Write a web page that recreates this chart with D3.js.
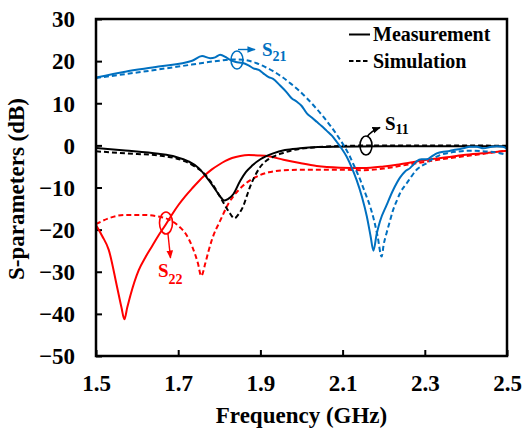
<!DOCTYPE html>
<html>
<head>
<meta charset="utf-8">
<script src="https://cdn.jsdelivr.net/npm/d3@7/dist/d3.min.js"></script>
<style>
  html, body { margin: 0; padding: 0; background: #fff; }
  svg { display: block; }
</style>
</head>
<body>
<svg id="chart" width="526" height="430"></svg>
<script>
// S-parameter traces: [frequency (GHz), magnitude (dB)]
const s21Meas = [[1.5,16.1],[1.571,17.5],[1.652,18.7],[1.734,20.1],[1.758,21.2],[1.778,20.7],[1.79,20.9],[1.802,21.5],[1.815,21.0],[1.823,20.5],[1.84,19.8],[1.855,19.6],[1.871,19.0],[1.883,18.3],[1.896,17.9],[1.907,17.1],[1.92,16.2],[1.931,15.8],[1.948,14.2],[1.964,12.6],[1.976,11.2],[1.988,10.4],[2.0,9.4],[2.013,7.6],[2.025,6.6],[2.037,5.6],[2.049,4.6],[2.061,3.5],[2.074,2.3],[2.086,0.8],[2.098,-0.8],[2.11,-2.7],[2.122,-5.2],[2.134,-8.2],[2.147,-12.2],[2.159,-16.9],[2.168,-21.5],[2.175,-25],[2.183,-21],[2.191,-18],[2.207,-14.2],[2.223,-10.6],[2.24,-7.6],[2.252,-6.2],[2.264,-5.4],[2.272,-4.6],[2.28,-3.8],[2.292,-3.3],[2.305,-3.3],[2.317,-2.6],[2.329,-1.9],[2.345,-1.5],[2.357,-1.4],[2.37,-1.1],[2.382,-0.9],[2.394,-0.7],[2.41,-0.3],[2.426,-0.3],[2.443,-0.7],[2.459,-0.4],[2.475,-0.2],[2.49,-0.3],[2.5,-0.8]];
const s21Sim = [[1.5,16.0],[1.6,17.3],[1.7,18.7],[1.8,20.1],[1.83,20.4],[1.858,20.3],[1.891,19.5],[1.91,18.7],[1.931,17.6],[1.952,16.3],[1.972,14.8],[1.993,13.1],[2.013,11.2],[2.033,9.1],[2.053,6.8],[2.07,4.7],[2.086,2.5],[2.102,0.1],[2.118,-2.7],[2.13,-5.3],[2.143,-8.2],[2.155,-11.3],[2.167,-14.5],[2.177,-18],[2.185,-21.5],[2.195,-26.4],[2.2,-23.5],[2.207,-20.8],[2.215,-18],[2.223,-15.3],[2.232,-13.1],[2.24,-11.3],[2.256,-9],[2.268,-7.3],[2.28,-5.8],[2.292,-4.9],[2.305,-4.2],[2.321,-3.1],[2.337,-2.3],[2.357,-1.8],[2.378,-1.5],[2.4,-1.3],[2.42,-1.3],[2.44,-1.4],[2.46,-1.5],[2.48,-1.8],[2.5,-2.3]];
const s11Meas = [[1.5,-0.6],[1.571,-1.2],[1.652,-2.0],[1.693,-2.7],[1.725,-3.8],[1.75,-5.4],[1.774,-8.2],[1.794,-11],[1.805,-12.5],[1.812,-13.1],[1.82,-12.8],[1.834,-11.6],[1.851,-8.4],[1.865,-6.3],[1.88,-4.8],[1.9,-3.3],[1.931,-1.9],[1.96,-1.1],[1.996,-0.7],[2.04,-0.4],[2.077,-0.3],[2.2,-0.2],[2.35,-0.2],[2.5,-0.2]];
const s11Sim = [[1.5,-1.4],[1.571,-1.9],[1.652,-2.4],[1.717,-3.8],[1.74,-5],[1.758,-6.2],[1.782,-9],[1.806,-12.9],[1.823,-15.7],[1.837,-17.3],[1.847,-16.3],[1.858,-14.5],[1.867,-12],[1.875,-9.8],[1.887,-7.2],[1.899,-5.2],[1.915,-3.6],[1.931,-2.7],[1.955,-1.8],[1.98,-1.1],[2.03,-0.5],[2.077,-0.2],[2.2,0],[2.35,0],[2.5,-0.1]];
const s22Meas = [[1.5,-18.9],[1.515,-21.5],[1.531,-24.8],[1.551,-33.5],[1.562,-38.5],[1.569,-41.3],[1.576,-38.5],[1.584,-35.5],[1.604,-29.6],[1.62,-26.6],[1.636,-24],[1.652,-21.4],[1.669,-18.9],[1.685,-16.4],[1.701,-14.1],[1.717,-12.1],[1.734,-10.2],[1.75,-8.5],[1.766,-7],[1.782,-5.7],[1.799,-4.6],[1.815,-3.7],[1.831,-3.0],[1.851,-2.5],[1.871,-2.3],[1.895,-2.4],[1.92,-2.6],[1.956,-3.4],[1.996,-4.2],[2.037,-4.9],[2.094,-5.3],[2.15,-5.4],[2.2,-5.0],[2.232,-4.6],[2.27,-4.0],[2.313,-3.3],[2.354,-2.8],[2.394,-2.3],[2.45,-1.8],[2.5,-1.3]];
const s22Sim = [[1.5,-18.7],[1.531,-17.3],[1.571,-16.5],[1.612,-16.5],[1.652,-16.9],[1.675,-17.5],[1.693,-18.5],[1.705,-19.5],[1.717,-20.8],[1.734,-24],[1.748,-28],[1.756,-31],[1.766,-28],[1.774,-25],[1.782,-22.4],[1.803,-17.7],[1.823,-13.7],[1.847,-10.6],[1.862,-9.2],[1.88,-8.0],[1.9,-7.0],[1.92,-6.4],[1.956,-5.9],[2.0,-5.8],[2.037,-5.8],[2.11,-5.8],[2.15,-5.9],[2.2,-5.5],[2.232,-5.0],[2.27,-4.4],[2.313,-3.7],[2.354,-3.1],[2.394,-2.6],[2.45,-1.9],[2.5,-1.2]];

const xTicks = [1.5, 1.7, 1.9, 2.1, 2.3, 2.5];
const yTicks = [-50, -40, -30, -20, -10, 0, 10, 20, 30];
const legendLabels = ["Measurement", "Simulation"];

const BLUE = "#0070C0", RED = "#FF0000", BLACK = "#000000";
const FONT = "'Liberation Serif', Tinos, 'Times New Roman', 'DejaVu Serif', serif";

const svg = d3.select("#chart")
  .attr("font-family", FONT).attr("font-weight", "bold");
const m = { left: 96, right: 507, top: 19, bottom: 356 };

const x = d3.scaleLinear().domain([1.5, 2.5]).range([m.left, m.right]);
const y = d3.scaleLinear().domain([-50, 30]).range([m.bottom, m.top]);

// serif bold text helper
function styleText(sel, size) {
  return sel.attr("font-family", FONT).attr("font-weight", "bold").attr("font-size", size);
}

// arrowhead markers
const defs = svg.append("defs");
[["arrBlue", BLUE], ["arrRed", RED], ["arrBlack", BLACK]].forEach(([id, c]) => {
  defs.append("marker").attr("id", id)
    .attr("viewBox", "0 0 10 10").attr("refX", 9).attr("refY", 5)
    .attr("markerWidth", 6).attr("markerHeight", 6).attr("orient", "auto")
    .append("path").attr("d", "M0,1 L10,5 L0,9 Z").attr("fill", c);
});
defs.append("clipPath").attr("id", "plotClip")
  .append("rect").attr("x", m.left).attr("y", m.top)
  .attr("width", m.right - m.left).attr("height", m.bottom - m.top);

// axes with inward ticks
const xAxis = svg.append("g").attr("transform", `translate(0,${m.bottom})`)
  .call(d3.axisBottom(x).tickValues(xTicks).tickFormat(d3.format(".1f"))
    .tickSizeInner(-6).tickSizeOuter(0));
xAxis.attr("font-family", FONT).attr("font-size", 23);
xAxis.select(".domain").remove();
xAxis.selectAll("line").attr("stroke", BLACK).attr("stroke-width", 2);
styleText(xAxis.selectAll("text"), 23).attr("y", 35).attr("dy", null).attr("fill", BLACK);

const yAxis = svg.append("g").attr("transform", `translate(${m.left},0)`)
  .call(d3.axisLeft(y).tickValues(yTicks).tickSizeInner(-6).tickSizeOuter(0));
yAxis.attr("font-family", FONT).attr("font-size", 23);
yAxis.select(".domain").remove();
yAxis.selectAll("line").attr("stroke", BLACK).attr("stroke-width", 2);
styleText(yAxis.selectAll("text"), 23).attr("x", -21).attr("dy", "0.34em").attr("fill", BLACK);

// curves
const line = d3.line().x(d => x(d[0])).y(d => y(d[1])).curve(d3.curveMonotoneX);
const series = [
  { data: s22Sim, color: RED, dash: "5,3" },
  { data: s22Meas, color: RED, dash: null },
  { data: s11Sim, color: BLACK, dash: "5,3" },
  { data: s11Meas, color: BLACK, dash: null },
  { data: s21Sim, color: BLUE, dash: "5,3" },
  { data: s21Meas, color: BLUE, dash: null }
];
const plot = svg.append("g").attr("clip-path", "url(#plotClip)");
plot.selectAll("path.trace").data(series).join("path")
  .attr("class", "trace")
  .attr("d", d => line(d.data))
  .attr("fill", "none")
  .attr("stroke", d => d.color)
  .attr("stroke-width", 2)
  .attr("stroke-dasharray", d => d.dash);

// frame
svg.append("rect").attr("x", m.left).attr("y", m.top)
  .attr("width", m.right - m.left).attr("height", m.bottom - m.top)
  .attr("fill", "none").attr("stroke", BLACK).attr("stroke-width", 2.5);

// axis titles
styleText(svg.append("text"), 23).attr("x", (m.left + m.right) / 2).attr("y", 423)
  .attr("text-anchor", "middle").text("Frequency (GHz)");
styleText(svg.append("text"), 23).attr("transform", "translate(24,189) rotate(-90)")
  .attr("text-anchor", "middle").text("S-parameters (dB)");

// legend
const legend = svg.append("g");
legendLabels.forEach((lab, i) => {
  const ly = [34.5, 61][i];
  legend.append("line").attr("x1", 349).attr("x2", 370).attr("y1", ly).attr("y2", ly)
    .attr("stroke", BLACK).attr("stroke-width", 2)
    .attr("stroke-dasharray", i === 1 ? "4.5,2.5" : null);
  styleText(legend.append("text"), 20).attr("x", 373).attr("y", ly + 6.5).text(lab);
});

// trace annotations: ellipse marker, arrow and label
function label(xp, yp, sub, color, subDy) {
  const t = styleText(svg.append("text"), 19).attr("x", xp).attr("y", yp).attr("fill", color);
  t.append("tspan").text("S");
  t.append("tspan").attr("dy", subDy).attr("font-size", 14).text(sub);
}
function ring(cx, cy, rx, ry, color) {
  svg.append("ellipse").attr("cx", cx).attr("cy", cy).attr("rx", rx).attr("ry", ry)
    .attr("fill", "none").attr("stroke", color).attr("stroke-width", 1.6);
}
function arrow(d, color, marker) {
  svg.append("path").attr("d", d).attr("fill", "none").attr("stroke", color)
    .attr("stroke-width", 1.4).attr("marker-end", `url(#${marker})`);
}

ring(237, 60, 6, 9, BLUE);
arrow("M238,49.5 L255,49.5", BLUE, "arrBlue");
label(262, 56, "21", BLUE, 4.5);

ring(366, 145.5, 6, 9.5, BLACK);
arrow("M367,137 Q371,131 380,127.5", BLACK, "arrBlack");
label(385, 130, "11", BLACK, 4);

ring(166, 223, 6.5, 11, RED);
arrow("M168,234 L170.5,258", RED, "arrRed");
label(158, 277, "22", RED, 7);
</script>
</body>
</html>
